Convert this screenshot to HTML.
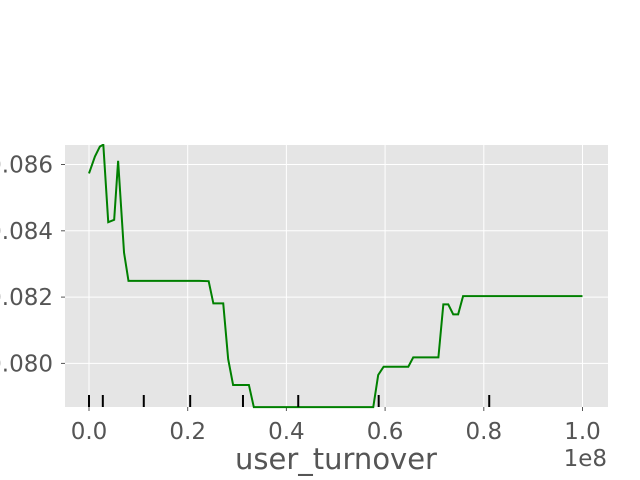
<!DOCTYPE html>
<html><head><meta charset="utf-8"><style>
body{margin:0;background:#fff}
svg{display:block;font-family:"DejaVu Sans","Liberation Sans",sans-serif}
</style></head><body>
<svg id="c" width="640" height="480">
<rect x="65" y="145" width="543" height="262" fill="#e5e5e5"/>
<g id="grid"></g><g id="axes"></g>
<clipPath id="clip"><rect x="65" y="144" width="543" height="265"/></clipPath>
<g id="series" clip-path="url(#clip)"></g>
<text x="336" y="469" font-size="29" fill="#555" text-anchor="middle">user_turnover</text>
<text x="607" y="466" font-size="23" fill="#555" text-anchor="end">1e8</text>
</svg>
<script>
const xs=[0,0.012,0.022,0.029,0.039,0.051,0.059,0.071,0.080,0.2235,0.2425,0.252,0.272,0.282,0.292,0.324,0.334,0.576,0.586,0.597,0.647,0.657,0.708,0.718,0.728,0.738,0.748,0.758,1.0];
const ys=[0.08573,0.08624,0.08654,0.0866,0.08426,0.08433,0.08611,0.08334,0.08249,0.08249,0.08248,0.08181,0.08181,0.08013,0.07935,0.07935,0.07868,0.07868,0.07965,0.0799,0.0799,0.08018,0.08018,0.08178,0.08178,0.08148,0.08148,0.08203,0.08203];
const rug=[0,0.028,0.111,0.205,0.312,0.424,0.587,0.811];
const xTicks=[0,0.2,0.4,0.6,0.8,1.0];
const xTickLabels=["0.0","0.2","0.4","0.6","0.8","1.0"];
const yTicks=[0.080,0.082,0.084,0.086];
const yTickLabels=["0.080","0.082","0.084","0.086"];
const X=v=>89+v*493.5, Y=v=>164.5+(0.086-v)*33150;
const NS="http://www.w3.org/2000/svg";
function mk(t,a,p){const e=document.createElementNS(NS,t);for(const k in a)e.setAttribute(k,a[k]);p.appendChild(e);return e;}
const g=document.getElementById('grid'),ax=document.getElementById('axes'),s=document.getElementById('series');
xTicks.forEach((v,i)=>{
 const l=mk('line',{x1:X(v),x2:X(v),y1:145,y2:407,stroke:'#fff','stroke-width':1},g);
 
 
 mk('line',{x1:X(v),x2:X(v),y1:407,y2:411,stroke:'#555'},ax);
 const t=mk('text',{x:X(v),y:439,'font-size':23,fill:'#555','text-anchor':'middle'},ax);
 t.textContent=xTickLabels[i];
 
 
});
yTicks.forEach((v,i)=>{
 const l=mk('line',{x1:65,x2:608,y1:Y(v),y2:Y(v),stroke:'#fff','stroke-width':1},g);
 
 
 mk('line',{x1:61,x2:65,y1:Y(v),y2:Y(v),stroke:'#555'},ax);
 const t=mk('text',{x:53,y:Y(v)+8,'font-size':23,fill:'#555','text-anchor':'end'},ax);
 t.textContent=yTickLabels[i];
 
 
});
const p=mk('polyline',{points:xs.map((v,i)=>X(v)+','+Y(ys[i])).join(' '),fill:'none',stroke:'#008000','stroke-width':2},s);


rug.forEach(v=>{
 const r=mk('line',{x1:X(v),x2:X(v),y1:395,y2:407,stroke:'#000','stroke-width':2},s);
 
 
});
</script>
</body></html>
